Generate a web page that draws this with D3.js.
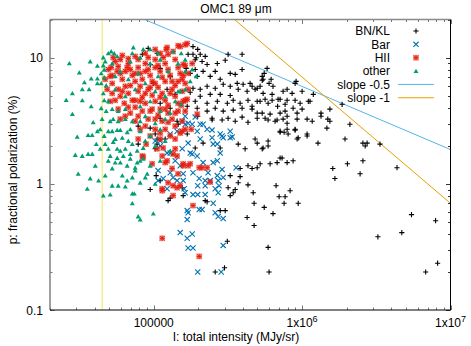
<!DOCTYPE html>
<html><head><meta charset="utf-8">
<script src="https://cdn.jsdelivr.net/npm/d3@7"></script>
<style>body{margin:0;background:#fff}svg{display:block}text{font-family:"Liberation Sans",Arial,Helvetica,sans-serif;fill:#000}</style>
</head><body><svg id="c" width="471" height="346"></svg>
<script>
// ---- data: [I (MJy/sr), p (%)] ----
const bnkl = [[184000,12.2],[198000,11.6],[184000,10.6],[205600,10.6],[317000,10.6],[394000,10.6],[222200,10.2],[170600,10.6],[190300,9.6],[212000,9.3],[229000,8.8],[268000,8.97],[303000,9.5],[259500,7.76],[215300,7.76],[190300,8.04],[176100,7.48],[196300,7.09],[240100,7.09],[280400,6.72],[327400,7.48],[353800,7.35],[394000,8.04],[581000,8.2],[555000,7.48],[538000,7.09],[446500,6.24],[400000,6.13],[365000,6.24],[327400,5.91],[294000,6.13],[259500,5.7],[229000,5.91],[205600,5.6],[184000,5.7],[176100,5.3],[205600,4.93],[240100,5.1],[280400,5.1],[327400,5.0],[371000,5.6],[426000,5.4],[482500,5.6],[538000,6.6],[521400,5.91],[599000,6.24],[745000,5.4],[792000,5.6],[897000,6.24],[710900,4.67],[628000,4.58],[563400,4.67],[498000,4.5],[432000,4.58],[382300,4.34],[343000,4.58],[313000,4.34],[268000,4.5],[229000,4.34],[190300,4.5],[168000,4.11],[196300,3.97],[229000,3.76],[259500,3.97],[294000,3.76],[343000,3.83],[394000,3.97],[460000,3.9],[538000,3.63],[608800,3.56],[710900,3.63],[792000,3.43],[925000,3.63],[1.0e6,3.9],[1.10e6,4.5],[897000,4.58],[768000,4.26],[684000,4.11],[198000,3.43],[247600,3.3],[317000,3.3],[394000,3.37],[498000,3.3],
[546000,6.72],[618000,6.72],[637000,5.91],[498000,5.7],[460000,5.91],[546000,5.2],[628000,5.1],[856000,5.2],[911000,6.47],[1.0e6,5.4],[1.19e6,5.1],[1.13e6,4.5],[970000,4.34],[792000,4.58],[689000,4.67],[590000,4.34],[521400,4.5],[460000,4.11],[498000,3.63],[563400,3.3],[657900,3.13],[745000,3.25],[768000,3.76],[870000,3.97],[925000,3.25],[1.08e6,3.25],[1.17e6,3.13],[1.34e6,3.63],[1.34e6,3.43],[1.54e6,3.9],[1.49e6,3.25],[1.54e6,3.13],[1.47e6,2.76],[1.86e6,4.26],[2.10e6,2.96],[710900,2.61],[792000,2.70],[897000,2.70],[941000,2.31],[805000,2.48],[1.08e6,2.48],[1.28e6,2.10],[482500,2.26],[590000,2.18],[590000,1.99],[546000,1.92],[1.945e6,2.26],[2.57e6,2.10],[2.66e6,1.99],[2.74e6,2.10],[3.35e6,2.06],[608800,1.44],[678000,1.47],[733000,1.60],[792000,1.47],[870000,1.52],[521400,1.44],[498000,1.34],[460000,1.32],[1.61e6,1.32],[2.02e6,1.44],[1.664e6,1.10],[2.46e6,1.20],[2.57e6,1.52],[4.36e6,1.34],[668000,0.965],[700000,0.79],[768000,0.79],[830000,0.881],[756000,0.70],[941000,0.70],[468000,0.85],[475000,0.70],[555000,0.65],[637000,0.58],[475000,0.467],[590000,0.313],[599000,0.20],[3.24e6,0.38],[4.70e6,0.41],[5.46e6,0.57],[7.94e6,0.51],[6.81e6,0.20],[8.19e6,0.235],
[247600,3.2],[289000,3.2],[353800,3.13],[432000,3.07],[590000,3.2],[678000,3.2],[792000,3.01],[710900,2.56],[756000,2.56],[897000,2.66],[925000,2.26],[498000,2.10],[371000,2.06],[413100,1.89],[280400,1.92],[215300,2.10],[190300,1.92],[168000,2.48],[538000,1.89],[710900,1.60],[432000,1.39],[382300,1.32],[327400,1.16],[382300,1.14],[432000,0.98],[371000,1.02],[317000,0.93],[353800,0.90],[343000,0.85],[327400,0.805],[157900,0.805],[229000,0.72],[280400,0.613],[303000,0.613],[313000,0.35],[300000,0.216],[259500,0.20],[426000,0.54],[1.08e6,2.39],[125000,0.735],[222200,0.735],[94700,0.90],[110600,1.06],
[91800,11.8],[105400,10.8],[83700,10.6],[94700,8.8],[110600,8.2],[129100,7.09],[99300,6.24],[123000,5.6],[139500,5.1],[110600,4.34],[129100,3.97],[110600,3.3],[94700,2.76],[143700,3.13],[102300,2.48],[119500,2.26],[193300,9.96],[165500,8.2],[102300,1.89],[105400,2.06],[78600,2.06],[104000,1.16],[129100,0.77],[155500,0.93],[146000,2.96],[105400,2.26],[78600,2.86]];

const bar = [[155500,3.13],[162900,2.96],[170600,3.01],[190300,3.37],[205600,2.96],[247600,2.66],[294000,2.31],[338000,2.35],[327400,2.61],[280400,2.48],[205600,2.26],[170600,2.10],[155500,1.89],[176100,1.75],[196300,1.66],[215300,1.47],[251500,1.47],[289000,1.30],[359000,1.34],[268000,1.16],[240100,1.06],[222200,0.965],[259500,0.914],[162900,0.85],[184000,0.82],[198000,0.82],[222200,0.82],[251500,0.70],[170600,0.59],[212000,0.624],[259500,0.59],[157900,1.06],[184000,1.22],[202500,1.10],[276000,0.965],[110600,2.18],[129100,1.75],[181600,1.72],[251500,2.06],[280400,1.75],[268000,1.52],[232500,1.22],[272000,1.06],[222200,1.06],[198000,0.965],[272000,0.85],[143700,1.06],[123000,0.914],[107000,1.06],[168000,0.613],[202500,0.624],[272000,0.55],[294000,0.53],[168000,0.52],[294000,1.12],[327400,2.31],[247600,2.31],[150800,0.41],[181600,0.40],[168000,0.37],[170600,0.31],[184000,0.31],[294000,0.325],[198000,0.20],[284800,0.20],[102300,2.18],[110600,1.99],[123000,1.75],[129100,1.22],[135000,1.12],[150800,1.39],[157900,1.20],[139500,1.52],[115800,1.10],[160400,0.914],[107000,1.27],[162900,3.43],[181600,2.96],[215300,2.96],[196300,2.61],[143700,2.61],[129100,2.48],[229000,2.70],[289000,2.39],[268000,2.06]];

const hii = [[168000,12.9],[146000,12.4],[123000,12.0],[135000,11.15],[121400,11.6],[125000,10.6],[61400,10.4],[67400,9.8],[150800,12.2],[162900,12.6],[102300,11.6],[110600,10.8],
[49400,8.04],[50900,7.09],[52500,6.24],[55000,9.3],[57600,8.49],[59500,7.48],[61400,6.72],[64300,5.91],[67400,8.97],[69500,8.04],[71700,7.22],[75000,6.47],[78600,8.34],[81100,7.48],[83700,6.72],[87700,8.97],[91800,8.04],[94700,7.22],[97600,6.47],[102300,9.64],[107000,8.64],[110600,7.76],[114000,6.97],[119500,8.97],[125000,8.04],[129100,7.22],[133000,6.47],[139500,9.64],[146000,8.34],[150800,7.48],[155500,6.72],[162900,8.64],
[52500,5.2],[55000,4.58],[57600,5.6],[59500,4.93],[63300,4.34],[67400,5.2],[71700,4.58],[75000,4.04],[78600,5.4],[83700,4.84],[87700,4.34],[91800,5.6],[97600,5.02],[102300,4.5],[107000,5.8],[114000,5.2],[119500,4.58],[125000,4.18],[133000,5.6],[139500,4.93],[146000,4.34],[155500,5.4],[162900,4.58],
[57600,3.9],[64300,3.43],[69500,3.63],[78600,3.43],[83700,3.76],[91800,3.25],[97600,3.9],[107000,3.49],[114000,3.13],[125000,3.63],[133000,3.25],[146000,3.76],[155500,3.13],[87700,2.86],[102300,2.70],[119500,2.70],[139500,2.86],[94700,2.39],[110600,2.26],[129100,2.39],[150800,2.52],[47100,6.72],[48600,5.6],[75000,10.2],[87700,10.8],[64300,7.76],[102300,6.24],[81100,5.91],
[85000,1.63],[78600,2.26],[89000,2.06],[97600,1.44],[114000,1.66],[119500,1.47],[114000,0.881],[125000,1.02],[135000,0.805],[133000,1.32],[150800,0.965],[157900,1.44],[105400,1.89],[139500,1.89],[115800,1.92],[123000,1.52],[135000,1.72],[143700,1.66],[135000,0.965],[114000,0.914],[143700,0.93],[176100,1.44],[229000,1.34],[240100,1.03],[184000,0.671],[114000,0.37],[202500,0.266],[83700,1.66],[146000,1.20],[155500,2.61],[178900,2.70],[202500,1.34],[212000,1.34],[170600,1.39],[157900,1.39],[157900,8.8],[181600,8.97],[162900,6.24],[170600,5.6],[157900,4.5],[168000,4.67],[196300,3.56],[153100,4.18],[110600,3.9],
[53300,10.0],[59500,9.64],[78600,9.64],[91800,10.0],[56700,7.76],[51700,8.34],[66300,8.34],[75000,7.48],[87700,7.76],[102300,8.34],[119500,6.47],[139500,6.0],[157900,7.22],[50900,4.5],[61400,5.4],[69500,6.0],[87700,5.2],[110600,4.84],[129100,5.2],[75000,4.58],[67400,4.04],[81100,4.5],[94700,3.76],[119500,3.9],[139500,3.63],[162900,3.76],[75000,3.13],[102300,3.25],[125000,3.07],[81100,2.70],[110600,2.52],[139500,2.26],[162900,2.70],[59500,3.25],[52500,7.22],[94700,5.8],[146000,6.47],[170600,7.48],[115800,10.0]];

const other = [[27000,9.0],[31500,7.6],[28300,5.2],[25700,4.6],[28300,3.56],[30500,2.35],[29600,1.69],[31000,1.20],[37300,9.3],[41700,8.6],[37900,6.8],[41700,6.8],[34100,6.35],[41700,6.24],[36700,5.6],[33000,5.6],[33000,4.58],[37900,4.11],[44300,3.97],[39100,3.07],[36100,2.43],[38500,2.43],[41700,2.61],[41000,2.06],[33000,1.66],[36100,1.72],[38500,1.72],[37300,1.10],[35700,0.91],[43600,1.89],[47100,2.06],[45700,0.805],[50900,0.82],
[44900,3.25],[49400,2.61],[52500,2.61],[53300,3.25],[56700,2.66],[57600,3.13],[59500,2.66],[64300,3.25],[66300,2.56],[69500,2.70],[71700,3.13],[61400,2.31],[67400,2.18],[49400,1.89],[56700,1.89],[47100,1.16],[50900,1.66],[56700,1.60],[62400,1.66],[69500,1.72],[77400,1.82],[85000,1.92],[55000,1.47],[59500,1.47],[66300,1.39],[75000,1.34],[69500,1.58],[61400,1.16],[75000,1.27],[71700,1.12],[87700,1.12],[77400,1.47],[71700,0.835],[74000,0.835],[71700,0.70],[99300,0.58],[78600,0.55],[81100,0.52],[90400,1.20],[102300,1.00],[85000,1.58],
[49400,10.8],[51700,11.15],[54200,10.8],[56700,10.2],[72800,12.0],[71700,10.8],[94700,11.6],[107000,10.8],[135000,11.15],[47100,9.3],[46400,8.0],[46400,6.97],[47800,6.0],[45700,5.2],[49400,4.5],[52500,3.9],[57600,3.76],[64300,3.9],[81100,4.11],[94700,4.5],[110600,3.76],[119500,3.25],[129100,3.63],[139500,4.5],[146000,5.4],[87700,3.43],[102300,3.01],[81100,3.13],[110600,2.70],[94700,2.39],[119500,2.18],[102300,1.99],[129100,1.82],[110600,1.52],[87700,2.18],[81100,2.61],[52500,8.97],[59500,7.76],[69500,9.3],[81100,10.0],[94700,8.97],[110600,9.6],[125000,7.76],[146000,8.97],[162900,7.76],[176100,6.47],[162900,5.6],[55000,5.6],[64300,4.93],[75000,5.6],[87700,6.24],[102300,5.4],[119500,4.93],[67400,6.72],[78600,7.5],[107000,7.09],[55000,7.09],[85000,11.6],[162900,9.6],[181600,8.04],[193300,7.09],[153100,10.8],[150800,5.4],[153100,4.26],
[45700,10.0],[45700,8.64],[44300,7.48],[44300,6.24],[46400,4.58],[47800,3.76],[43600,2.70],[50900,3.13],[55000,2.26],[49400,1.52],[64300,1.89],[52500,1.32],[57600,0.965],[64300,0.95],[81100,1.02],[46400,2.39],[53300,2.14],[59500,1.82],[71700,2.06],[81100,1.52],[94700,1.39],[66300,1.06],[52500,0.965],[40400,1.39],[42500,1.06]];

const seriesNames = ["BN/KL", "Bar", "HII", "other"];
const seriesColors = ["#000000", "#0072b2", "#e51e10", "#009e73"];
const lineNames = ["slope -0.5", "slope -1"];
const lineColors = ["#56b4e9", "#e69f00"];
const slopeHalfCoef = 5900;   // p = 5900 * I^-0.5
const slopeOneCoef = 7.0e6;   // p = 7e6 * I^-1
const vlineI = 45000;
const xMajor = [1e5, 1e6, 1e7];
const xMajorLabels = [["100000", ""], ["1x10", "6"], ["1x10", "7"]];
const yMajor = [0.1, 1, 10];
const yMajorLabels = ["0.1", "1", "10"];
const titleText = "OMC1 89 \u03bcm";
const xTitle = "I: total intensity (MJy/sr)";
const yTitle = "p: fractional polarization (%)";

// ---- layout ----
const L = 50, R = 450.5, T = 19.5, B = 310;
const svg = d3.select("#c");
const x = d3.scaleLog().domain([2e4, 1e7]).range([L, R]);
const y = d3.scaleLog().domain([0.1, 20]).range([B, T]);

svg.append("defs").append("clipPath").attr("id", "clip")
  .append("rect").attr("x", L).attr("y", T).attr("width", R - L).attr("height", B - T);

// minor ticks
const xMinor = [], yMinor = [];
for (let d = 1e4; d < 1e7; d *= 10) for (let k = 2; k <= 9; k++) { const v = d * k; if (v >= 2e4 && v <= 1e7) xMinor.push(v); }
for (let d = 0.1; d < 20; d *= 10) for (let k = 2; k <= 9; k++) { const v = d * k; if (v <= 20) yMinor.push(v); }

const tg = svg.append("g").attr("stroke-width", 1);
function tickX(v, len) {
  const px = Math.round(x(v)) + 0.5;
  tg.append("line").attr("x1", px).attr("x2", px).attr("y1", B).attr("y2", B - len).attr("stroke", "#777");
  tg.append("line").attr("x1", px).attr("x2", px).attr("y1", T).attr("y2", T + len).attr("stroke", "#777");
}
function tickY(v, len) {
  const py = Math.round(y(v)) + 0.5;
  tg.append("line").attr("x1", L).attr("x2", L + len).attr("y1", py).attr("y2", py).attr("stroke", "#777");
  tg.append("line").attr("x1", R).attr("x2", R - len).attr("y1", py).attr("y2", py).attr("stroke", "#333");
}
xMinor.forEach(v => tickX(v, 2.5));
xMajor.forEach(v => tickX(v, 4.5));
yMinor.forEach(v => tickY(v, 2.5));
yMajor.forEach(v => tickY(v, 4.5));

// reference lines
const lg = svg.append("g").attr("clip-path", "url(#clip)").attr("fill", "none");
lg.append("line").attr("x1", x(vlineI)).attr("x2", x(vlineI)).attr("y1", T).attr("y2", B)
  .attr("stroke", "#f0e442").attr("stroke-opacity", 0.6).attr("stroke-width", 1.5);
const xd = x.domain();
const line = d3.line().x(d => x(d[0])).y(d => y(d[1]));
lg.append("path").attr("d", line(xd.map(v => [v, slopeHalfCoef / Math.sqrt(v)])))
  .attr("stroke", lineColors[0]).attr("stroke-width", 1);
lg.append("path").attr("d", line(xd.map(v => [v, slopeOneCoef / v])))
  .attr("stroke", lineColors[1]).attr("stroke-width", 1);

// markers
const s = 2.6;
const plusPath = `M${-s},0H${s}M0,${-s}V${s}`;
const xPath = `M${-s},${-s}L${s},${s}M${-s},${s}L${s},${-s}`;
const starPath = `M-2.6,0H2.6M0,-2.6V2.6M-2.2,-2.2L2.2,2.2M-2.2,2.2L2.2,-2.2`;
const triPath = d3.symbol(d3.symbolTriangle, 11)();

function drawMarker(g, type, color) {
  if (type === 0) g.append("path").attr("d", plusPath).attr("stroke", color).attr("stroke-width", 1.1).attr("fill", "none");
  else if (type === 1) g.append("path").attr("d", xPath).attr("stroke", color).attr("stroke-width", 1.1).attr("fill", "none");
  else if (type === 2) {
    g.append("rect").attr("x", -2.9).attr("y", -2.9).attr("width", 5.8).attr("height", 5.8).attr("fill", color).attr("opacity", 0.45);
    g.append("path").attr("d", starPath).attr("stroke", color).attr("stroke-width", 1).attr("fill", "none");
  } else g.append("path").attr("d", triPath).attr("fill", color).attr("transform", "translate(0,0.5)");
}

const allSeries = [bnkl, bar, hii, other];
const pg = svg.append("g").attr("clip-path", "url(#clip)");
allSeries.forEach((data, i) => {
  const g = pg.append("g");
  data.forEach(d => {
    const m = g.append("g").attr("transform", `translate(${x(d[0]).toFixed(1)},${y(d[1]).toFixed(1)})`);
    drawMarker(m, i, seriesColors[i]);
  });
});

// border
svg.append("line").attr("x1", L).attr("x2", L).attr("y1", T).attr("y2", B).attr("stroke", "#888").attr("stroke-width", 1.6);
svg.append("line").attr("x1", L).attr("x2", R).attr("y1", T).attr("y2", T).attr("stroke", "#888").attr("stroke-width", 1.6);
svg.append("line").attr("x1", L).attr("x2", R).attr("y1", B).attr("y2", B).attr("stroke", "#000").attr("stroke-width", 1);
svg.append("line").attr("x1", R).attr("x2", R).attr("y1", T).attr("y2", B).attr("stroke", "#000").attr("stroke-width", 1);

// tick labels
const fs = 12;
yMajor.forEach((v, i) => {
  svg.append("text").attr("x", 43).attr("y", y(v) + 4.5).attr("text-anchor", "end").attr("font-size", fs).text(yMajorLabels[i]);
});
xMajor.forEach((v, i) => {
  const t = svg.append("text").attr("x", x(v)).attr("y", 327).attr("text-anchor", "middle").attr("font-size", fs);
  t.append("tspan").text(xMajorLabels[i][0]);
  if (xMajorLabels[i][1]) t.append("tspan").attr("dy", -5).attr("font-size", 9).text(xMajorLabels[i][1]);
});

// titles
svg.append("text").attr("x", 236).attr("y", 13).attr("text-anchor", "middle").attr("font-size", fs).text(titleText);
svg.append("text").attr("x", 236).attr("y", 340.5).attr("text-anchor", "middle").attr("font-size", fs).text(xTitle);
svg.append("text").attr("transform", "translate(17,170) rotate(-90)").attr("text-anchor", "middle").attr("font-size", fs).text(yTitle);

// legend
const legY0 = 31, legDy = 13.35, legTextX = 390;
seriesNames.forEach((n, i) => {
  const yy = legY0 + i * legDy;
  svg.append("text").attr("x", legTextX).attr("y", yy + 4.3).attr("text-anchor", "end").attr("font-size", fs).text(n);
  const m = svg.append("g").attr("transform", `translate(416,${yy})`);
  drawMarker(m, i, seriesColors[i]);
});
lineNames.forEach((n, j) => {
  const yy = legY0 + (4 + j) * legDy;
  svg.append("text").attr("x", legTextX).attr("y", yy + 4.3).attr("text-anchor", "end").attr("font-size", fs).text(n);
  svg.append("line").attr("x1", 398).attr("x2", 434).attr("y1", yy).attr("y2", yy).attr("stroke", lineColors[j]).attr("stroke-width", 1);
});
</script></body></html>
